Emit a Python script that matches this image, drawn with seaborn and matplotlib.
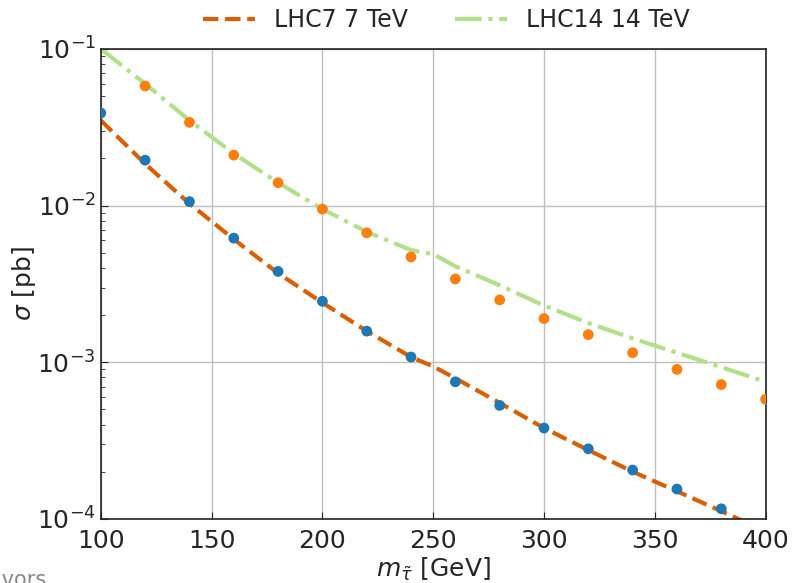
import numpy as np
import pandas as pd
import matplotlib
matplotlib.use("Agg")
import matplotlib.pyplot as plt
import seaborn as sns

# masses of the points [GeV]
m_pts_7 = [100, 120, 140, 160, 180, 200, 220, 240, 260, 280, 300, 320, 340, 360, 380]
sigma_pts_7 = [0.039, 0.0195, 0.0106, 0.0062, 0.0038, 0.00245, 0.00158, 0.00108, 0.00075,
               0.00053, 0.00038, 0.00028, 0.000205, 0.000155, 0.000116]

m_pts_14 = [120, 140, 160, 180, 200, 220, 240, 260, 280, 300, 320, 340, 360, 380, 400]
sigma_pts_14 = [0.058, 0.034, 0.021, 0.014, 0.0095, 0.0067, 0.0047, 0.0034, 0.0025,
                0.0019, 0.0015, 0.00115, 0.0009, 0.00072, 0.00058]

# curves
m_line = [100, 120, 140, 160, 180, 200, 220, 240, 250, 260, 280, 300, 320, 340, 360, 380, 400]
sigma_line_7 = [0.035, 0.0185, 0.0103, 0.0061, 0.0037, 0.0024, 0.00158, 0.00108, 0.00094,
                0.00079, 0.00055, 0.00038, 0.000275, 0.0002, 0.00015, 0.000112, 0.000083]
sigma_line_14 = [0.1, 0.06, 0.035, 0.0215, 0.014, 0.0095, 0.0068, 0.0052, 0.0049,
                 0.0041, 0.0031, 0.0023, 0.00178, 0.00142, 0.00115, 0.00093, 0.00075]

sns.set_style("whitegrid")
plt.rcParams['font.family'] = ['DejaVu Sans']

fig = plt.figure(figsize=(8, 5.83), dpi=100)
ax = fig.add_axes([0.126, 0.11, 0.831, 0.806])

lines = pd.DataFrame({'m': m_line, 's7': sigma_line_7, 's14': sigma_line_14})
sns.lineplot(data=lines, x='m', y='s7', ax=ax, color='#d95f02', lw=3,
             linestyle='--', label='LHC7 7 TeV')
sns.lineplot(data=lines, x='m', y='s14', ax=ax, color='#b2df8a', lw=3,
             linestyle='-.', label='LHC14 14 TeV')
sns.scatterplot(x=m_pts_7, y=sigma_pts_7, ax=ax, color='#1f77b4', s=60,
                edgecolor='none', zorder=3)
sns.scatterplot(x=m_pts_14, y=sigma_pts_14, ax=ax, color='#ff7f0e', s=60,
                edgecolor='none', zorder=3)

ax.set_yscale('log')
ax.set_xlim(100, 400)
ax.set_ylim(1e-4, 1e-1)
ax.set_xticks([100, 150, 200, 250, 300, 350, 400])
ax.set_xlabel(r'$m_{\tilde{\tau}}$ [GeV]', fontsize=18, labelpad=2)
ax.set_ylabel(r'$\sigma$ [pb]', fontsize=18)
ax.yaxis.set_label_coords(-0.095, 0.5)
ax.tick_params(axis='both', which='both', direction='in', labelsize=18,
               left=True, bottom=True)
ax.tick_params(axis='both', which='major', length=5)
ax.tick_params(axis='x', which='major', pad=7)
ax.tick_params(axis='y', which='minor', length=3)
ax.grid(True, which='major', color='#c0c0c0', lw=1)
ax.grid(False, which='minor')
for sp in ax.spines.values():
    sp.set_color('#222222')
    sp.set_linewidth(1.2)

ax.legend(loc='lower center', bbox_to_anchor=(0.52, 0.99), ncol=2, frameon=False,
          fontsize=17, handlelength=2.2, columnspacing=2.0)

fig.text(0.058, -0.012, 'Flavors', ha='right', va='bottom', fontsize=15, color='#888888')

fig.savefig('out.png', dpi=100)
